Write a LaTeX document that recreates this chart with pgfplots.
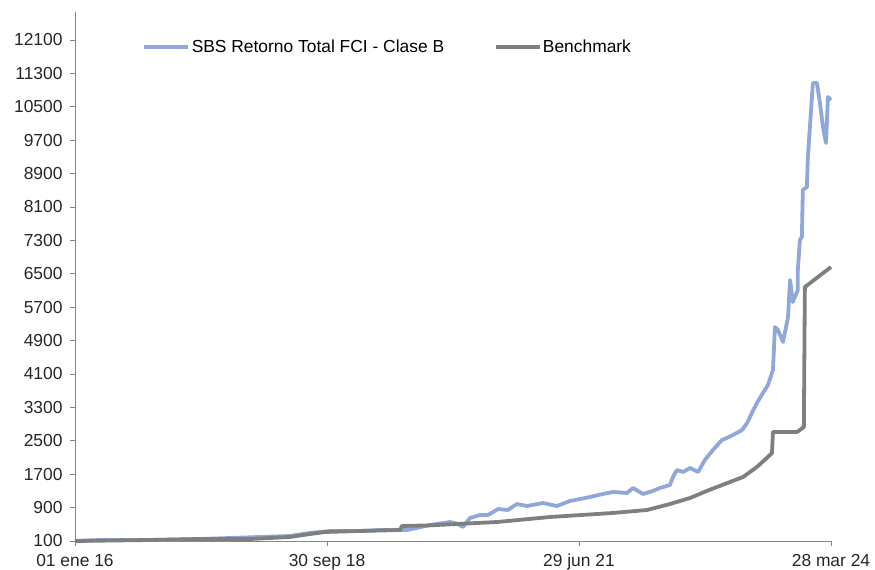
\documentclass[border=0pt]{standalone}
\usepackage{fontspec}
\setmainfont{Liberation Sans}
\usepackage{pgfplots}
\pgfplotsset{compat=1.18}
\definecolor{fundblue}{RGB}{143,167,217}
\definecolor{benchgray}{RGB}{127,127,127}
\definecolor{axgray}{RGB}{134,134,134}
\begin{document}
\begin{tikzpicture}
\useasboundingbox (-75bp,-29bp) rectangle (800bp,541bp);
\begin{axis}[
  scale only axis,
  width=756bp, height=529bp,
  xmin=0, xmax=3009,
  ymin=100, ymax=12770,
  axis x line=bottom, axis y line=left,
  axis line style={-, draw=axgray, line width=0.8bp},
  xtick={0,1003,2006,3009},
  xticklabels={01 ene 16,30 sep 18,29 jun 21,28 mar 24},
  ytick={100,900,1700,2500,3300,4100,4900,5700,6500,7300,8100,8900,9700,10500,11300,12100},
  scaled ticks=false,
  tick align=outside,
  major tick length=5bp,
  tick style={draw=axgray, line width=0.8bp},
  /pgf/number format/1000 sep={},
  /pgf/number format/fixed,
  /pgf/number format/precision=0,
  /pgf/number format/assume math mode=true,
  tick label style={font=\fontsize{17.4bp}{20bp}\selectfont, text=black!85},
  yticklabel style={xshift=-4bp},
  xticklabel style={yshift=-4.5bp},
  legend columns=2,
  legend style={draw=none, fill=none, at={(0.085,0.934)}, anchor=west,
    font=\fontsize{17.4bp}{20bp}\selectfont,
    /tikz/every even column/.append style={column sep=48bp},
    nodes={inner sep=1.5bp}},
  legend image code/.code={\draw[#1] (0bp,0bp) -- (44bp,0bp);},
  clip=false,
]
\addplot[fundblue, line width=3.8bp, line join=round] coordinates {
(0,100) (100,124) (299,124) (498,148) (617,172) (736,196) (856,220) (935,292)
(975,316) (1015,340) (1134,340) (1214,363) (1294,363) (1321,363) (1413,483)
(1493,555) (1524,507) (1544,435) (1572,651) (1612,723) (1644,723) (1684,866)
(1723,843) (1759,986) (1799,938) (1863,1010) (1918,938) (1970,1058)
(2050,1154) (2101,1226) (2141,1274) (2197,1250) (2221,1369) (2261,1226)
(2300,1298) (2328,1369) (2368,1441) (2380,1633) (2396,1800) (2420,1753)
(2448,1848) (2480,1753) (2507,2040) (2539,2279) (2575,2519) (2595,2567)
(2619,2639) (2655,2758) (2675,2926) (2694,3166) (2714,3405) (2738,3645)
(2758,3836) (2778,4195) (2786,5225) (2798,5153) (2818,4866) (2838,5465)
(2846,6351) (2857,5824) (2877,6111) (2877,6590) (2885,7309) (2893,7381)
(2897,8506) (2913,8578) (2917,9297) (2925,10015) (2937,11069) (2953,11069)
(2965,10590) (2977,10015) (2989,9632) (2997,10734) (3009,10662)
};
\addlegendentry{SBS Retorno Total FCI - Clase B}
\addplot[benchgray, line width=3.8bp, line join=round] coordinates {
(0,100) (299,124) (498,148) (697,148) (856,196) (935,268) (967,292) (995,316)
(1134,340) (1294,363) (1301,459) (1413,475) (1680,555) (1891,675) (2141,771)
(2277,843) (2368,986) (2448,1130) (2515,1300) (2659,1633) (2714,1872)
(2766,2160) (2774,2200) (2778,2711) (2874,2711) (2901,2830) (2905,6183)
(3009,6662)
};
\addlegendentry{Benchmark}
\end{axis}
\end{tikzpicture}
\end{document}
